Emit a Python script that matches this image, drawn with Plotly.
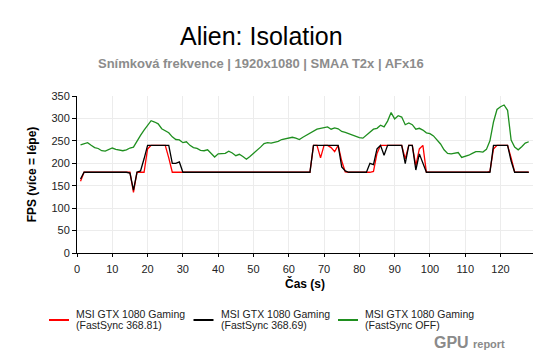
import plotly.graph_objects as go

seconds = list(range(1, 129))

red_fastsync_36881 = [
    160, 180, 180, 180, 180, 180, 180, 180, 180, 180,
    180, 180, 180, 180, 180, 135, 180, 180, 180, 232,
    240, 240, 240, 240, 240, 212, 180, 180, 180, 180,
    180, 180, 180, 180, 180, 180, 180, 180, 180, 180,
    180, 180, 180, 180, 180, 180, 180, 180, 180, 180,
    180, 180, 180, 180, 180, 180, 180, 180, 180, 180,
    180, 180, 180, 180, 180, 180, 240, 240, 212, 240,
    240, 235, 226, 240, 205, 181, 180, 180, 180, 180,
    180, 180, 180, 182, 222, 240, 240, 240, 240, 240,
    240, 240, 210, 240, 240, 195, 232, 240, 180, 180,
    180, 180, 180, 180, 180, 180, 180, 180, 180, 180,
    180, 180, 180, 180, 180, 180, 182, 232, 240, 240,
    240, 240, 212, 181, 180, 180, 180, 180,
]

black_fastsync_36869 = [
    165, 180, 180, 180, 180, 180, 180, 180, 180, 180,
    180, 180, 180, 180, 178, 140, 180, 183, 210, 240,
    240, 240, 240, 240, 240, 240, 200, 200, 203, 180,
    180, 180, 180, 180, 180, 180, 180, 180, 180, 180,
    180, 180, 180, 180, 180, 180, 180, 180, 180, 180,
    180, 180, 180, 180, 180, 180, 180, 180, 180, 180,
    180, 180, 180, 180, 180, 180, 240, 240, 240, 240,
    240, 240, 240, 240, 192, 183, 180, 180, 180, 180,
    180, 180, 200, 197, 232, 240, 218, 240, 240, 240,
    240, 240, 199, 240, 240, 185, 221, 202, 180, 180,
    180, 180, 180, 180, 180, 180, 180, 180, 180, 180,
    180, 180, 180, 180, 180, 180, 180, 240, 240, 240,
    240, 240, 205, 180, 180, 180, 180, 180,
]

green_fastsync_off = [
    241, 244, 246, 240, 235, 233, 228, 227, 230, 234,
    231, 229, 228, 230, 234, 236, 250, 262, 274, 285,
    295, 292, 288, 277, 272, 268, 259, 253, 252, 246,
    248, 240, 235, 233, 229, 228, 230, 221, 214, 221,
    222, 222, 227, 223, 217, 220, 215, 209, 215, 222,
    227, 236, 244, 246, 245, 247, 249, 253, 255, 256,
    258, 256, 253, 258, 263, 267, 272, 276, 278, 279,
    281, 276, 279, 277, 271, 269, 266, 262, 259, 257,
    256, 262, 270, 276, 278, 285, 281, 294, 313, 299,
    306, 303, 286, 290, 286, 276, 278, 274, 268, 266,
    261, 253, 243, 230, 222, 221, 222, 224, 213, 215,
    218, 222, 226, 226, 225, 231, 250, 292, 320, 326,
    330, 318, 252, 236, 230, 237, 245, 248,
]

series_card = ["MSI GTX 1080 Gaming", "MSI GTX 1080 Gaming", "MSI GTX 1080 Gaming"]
series_driver = ["(FastSync 368.81)", "(FastSync 368.69)", "(FastSync OFF)"]
series_colors = ["#ff0000", "#000000", "#1f8f1f"]
series_values = [red_fastsync_36881, black_fastsync_36869, green_fastsync_off]

x_ticks = list(range(0, 130, 10))
y_ticks = list(range(0, 351, 50))

FONT = "Liberation Sans, Arial, sans-serif"

# layout geometry (pixels)
W, H = 550, 350
ML, MR, MT, MB = 77, 17, 96, 97
PW = W - ML - MR
PLOT_BOTTOM = H - MB


def px_x(px):
    return (px - ML) / PW


fig = go.Figure()
for card, drv, color, vals in zip(series_card, series_driver, series_colors, series_values):
    fig.add_trace(go.Scatter(
        x=seconds, y=vals, mode="lines", name=f"{card} {drv}",
        line=dict(color=color, width=1.3), showlegend=False,
    ))

annotations = [
    dict(text="Alien: Isolation", xref="paper", yref="paper",
         x=px_x(261), y=1, yshift=MT - 36, xanchor="center", yanchor="middle",
         showarrow=False, font=dict(family=FONT, size=25, color="#000")),
    dict(text="<b>Snímková frekvence | 1920x1080 | SMAA T2x | AFx16</b>",
         xref="paper", yref="paper", x=px_x(261), y=1, yshift=MT - 63,
         xanchor="center", yanchor="middle", showarrow=False,
         font=dict(family=FONT, size=13, color="#8c8c8c")),
    dict(text="<b>GPU</b>", xref="paper", yref="paper",
         x=px_x(471), y=0, yshift=-(342 - PLOT_BOTTOM),
         xanchor="right", yanchor="middle", showarrow=False,
         font=dict(family=FONT, size=16, color="#8a8a8a")),
    dict(text="<b>report</b>", xref="paper", yref="paper",
         x=px_x(471), y=0, yshift=-(344 - PLOT_BOTTOM),
         xanchor="left", yanchor="middle", showarrow=False,
         font=dict(family=FONT, size=11, color="#8a8a8a")),
]
shapes = []
LEG_X0, LEG_STEP = 49, 144.5
for i, (card, drv, color) in enumerate(zip(series_card, series_driver, series_colors)):
    x0 = LEG_X0 + LEG_STEP * i
    shapes.append(dict(
        type="line", xref="paper", yref="paper", ysizemode="pixel", yanchor=0,
        x0=px_x(x0), x1=px_x(x0 + 20), y0=-(320 - PLOT_BOTTOM), y1=-(320 - PLOT_BOTTOM),
        line=dict(color=color, width=2),
    ))
    annotations.append(dict(
        text=card, xref="paper", yref="paper", x=px_x(x0 + 25), y=0,
        yshift=-(314 - PLOT_BOTTOM), xanchor="left", yanchor="middle",
        showarrow=False, font=dict(family=FONT, size=10.5, color="#222"),
    ))
    annotations.append(dict(
        text=drv, xref="paper", yref="paper", x=px_x(x0 + 25), y=0,
        yshift=-(325 - PLOT_BOTTOM), xanchor="left", yanchor="middle",
        showarrow=False, font=dict(family=FONT, size=10.5, color="#222"),
    ))

fig.update_layout(
    width=W, height=H,
    margin=dict(l=ML, r=MR, t=MT, b=MB),
    paper_bgcolor="white", plot_bgcolor="white",
    font=dict(family=FONT, size=11, color="#222"),
    showlegend=False,
    annotations=annotations,
    shapes=shapes,
)

fig.update_xaxes(
    range=[0, 129.2], tickvals=x_ticks, ticktext=[str(v) for v in x_ticks],
    showgrid=True, gridcolor="#ececec", gridwidth=1,
    showline=True, linecolor="#000", linewidth=1,
    ticks="outside", ticklen=3, tickcolor="#000",
    ticklabelstandoff=3,
    zeroline=False,
    title=dict(text="<b>Čas (s)</b>", font=dict(family=FONT, size=12, color="#000"), standoff=5),
    tickfont=dict(family=FONT, size=11, color="#222"),
)
fig.update_yaxes(
    range=[0, 350], tickvals=y_ticks, ticktext=[str(v) for v in y_ticks],
    showgrid=True, gridcolor="#ececec", gridwidth=1,
    showline=True, linecolor="#000", linewidth=1,
    ticks="outside", ticklen=4, tickcolor="#000",
    zeroline=False,
    title=dict(text="<b>FPS (více = lépe)</b>", font=dict(family=FONT, size=12, color="#000"), standoff=12),
    tickfont=dict(family=FONT, size=11, color="#222"),
)

fig.write_html("out.html")
